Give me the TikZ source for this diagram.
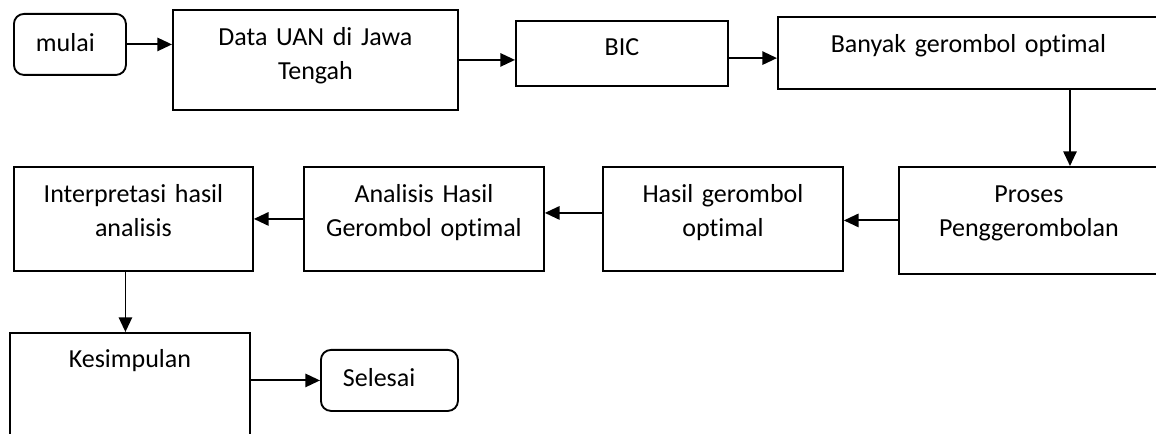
\documentclass[tikz,border=0pt]{standalone}
\usepackage{fontspec}
\setmainfont{Carlito}[RawFeature={-liga;-clig;-calt;-dlig}, WordSpace=0.8]
\usetikzlibrary{arrows.meta}

\begin{document}
\begin{tikzpicture}[x=0.75pt, y=-0.75pt,
		box/.style={draw, line width=1.4pt, anchor=north west, inner sep=0pt,
			align=center, text height=27pt,
			font=\fontsize{19.5pt}{25.5pt}\selectfont},
		term/.style={box, rounded corners=7.5pt, align=left, inner xsep=16.5pt},
		arr/.style={line width=1.4pt, -{Triangle[length=11pt,width=10pt]}}]
	\useasboundingbox (0,0) rectangle (1156,434);

	% top row
	\node[term, text width=51pt, text height=28.5pt, text depth=17.25pt] (mulai) at (13,13) {mulai};
	\node[box, text width=213.75pt, text depth=48pt] (data) at (172,9) {Data UAN di Jawa\\Tengah};
	\node[box, text width=159pt, text height=26.25pt, text depth=22.5pt] (bic) at (515,20) {BIC};
	\node[box, text width=285.75pt, text depth=27pt] (banyak) at (777,16) {Banyak gerombol optimal};

	% middle row
	\node[box, text width=195pt, text depth=53.25pt] (proses) at (898,166) {Proses\\Penggerombolan};
	\node[box, text width=180pt, text depth=51pt] (hasil) at (602,166) {Hasil gerombol\\optimal};
	\node[box, text width=180pt, text depth=51pt] (analisis) at (303,166) {Analisis Hasil\\Gerombol optimal};
	\node[box, text width=179.25pt, text depth=51pt] (interp) at (13,166) {Interpretasi hasil\\analisis};

	% bottom row
	\node[box, text width=180pt, text height=26.25pt, text depth=112pt] (kesimpulan) at (9,332) {Kesimpulan};
	\node[term, text width=69.75pt, text height=27.75pt, text depth=18pt] (selesai) at (320,349) {Selesai};

	% arrows
	\coordinate (turn) at (1070,0);
	\draw[arr] (mulai.east) -- (mulai.east -| data.west);
	\draw[arr] (data.east) -- (data.east -| bic.west);
	\draw[arr] ([yshift=-3.5pt]bic.east) -- ([yshift=-3.5pt]bic.east -| banyak.west);
	\draw[arr] (banyak.south -| turn) -- (proses.north -| turn);
	\draw[arr] (proses.west) -- (proses.west -| hasil.east);
	\draw[arr] ([yshift=4.5pt]hasil.west) -- ([yshift=4.5pt]hasil.west -| analisis.east);
	\draw[arr] (analisis.west) -- (analisis.west -| interp.east);
	\draw[arr] ([xshift=-6pt]interp.south) -- ([xshift=-6pt]interp.south |- kesimpulan.north);
	\draw[arr] (selesai.west -| kesimpulan.east) -- (selesai.west);
\end{tikzpicture}
\end{document}
